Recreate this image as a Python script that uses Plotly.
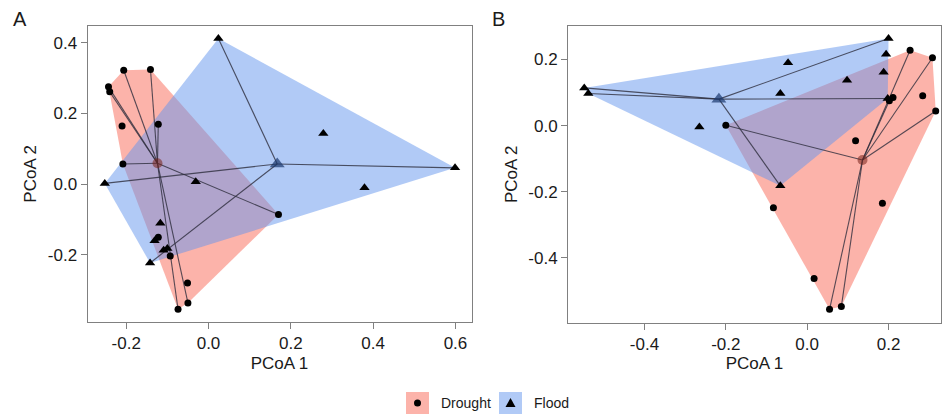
import plotly.graph_objects as go

W, H = 947, 414

# ---------------- Data ----------------
# Panel A
a_drought_x = [-0.206, -0.141, -0.243, -0.240, -0.210, -0.122, -0.208, 0.170, -0.093, -0.051, -0.050, -0.074, -0.122]
a_drought_y = [0.322, 0.324, 0.275, 0.261, 0.164, 0.169, 0.057, -0.086, -0.203, -0.280, -0.336, -0.354, -0.150]
a_drought_linked = [0, 1, 2, 3, 5, 6, 7, 10, 11]
a_flood_x = [0.024, -0.252, -0.031, -0.117, -0.131, -0.109, -0.100, -0.142, 0.279, 0.379, 0.599]
a_flood_y = [0.412, 0.002, 0.007, -0.111, -0.160, -0.187, -0.182, -0.223, 0.143, -0.010, 0.046]
a_flood_linked = [0, 1, 7, 10]
a_drought_centroid = [-0.124, 0.059]
a_flood_centroid = [0.167, 0.057]

# Panel B
b_drought_x = [-0.200, 0.253, 0.308, 0.284, 0.316, 0.202, 0.211, 0.119, 0.185, -0.083, 0.017, 0.055, 0.084]
b_drought_y = [0.001, 0.228, 0.205, 0.090, 0.044, 0.075, 0.085, -0.046, -0.235, -0.248, -0.462, -0.555, -0.547]
b_drought_linked = [0, 1, 2, 4, 5, 11, 12]
b_flood_x = [-0.548, -0.538, -0.265, 0.200, 0.194, 0.188, -0.047, 0.098, -0.066, -0.066, 0.198]
b_flood_y = [0.114, 0.097, -0.004, 0.263, 0.216, 0.161, 0.190, 0.137, 0.097, -0.182, 0.082]
b_flood_linked = [0, 1, 3, 9, 10]
b_drought_centroid = [0.136, -0.104]
b_flood_centroid = [-0.217, 0.080]

groups = ["Drought", "Flood"]
a_xticks = [-0.2, 0.0, 0.2, 0.4, 0.6]
a_xticklabels = ["-0.2", "0.0", "0.2", "0.4", "0.6"]
a_yticks = [-0.2, 0.0, 0.2, 0.4]
a_yticklabels = ["-0.2", "0.0", "0.2", "0.4"]
b_xticks = [-0.4, -0.2, 0.0, 0.2]
b_xticklabels = ["-0.4", "-0.2", "0.0", "0.2"]
b_yticks = [-0.4, -0.2, 0.0, 0.2]
b_yticklabels = ["-0.4", "-0.2", "0.0", "0.2"]

# ---------------- Styles ----------------
RED_FILL = "rgba(250,128,114,0.6)"
BLUE_FILL = "rgba(100,149,237,0.5)"
LINE_COL = "rgba(45,45,60,0.8)"
DROUGHT_CEN = "rgba(120,35,25,0.55)"
FLOOD_CEN = "rgba(25,55,110,0.7)"
FONT = "Liberation Sans, Arial, sans-serif"
TXT = "#1a1a1a"
AX = "#808080"


def hull(xs, ys):
    pts = sorted(set(zip(xs, ys)))
    if len(pts) < 3:
        return pts

    def cross(o, a, b):
        return (a[0] - o[0]) * (b[1] - o[1]) - (a[1] - o[1]) * (b[0] - o[0])

    lower = []
    for p in pts:
        while len(lower) >= 2 and cross(lower[-2], lower[-1], p) <= 0:
            lower.pop()
        lower.append(p)
    upper = []
    for p in reversed(pts):
        while len(upper) >= 2 and cross(upper[-2], upper[-1], p) <= 0:
            upper.pop()
        upper.append(p)
    return lower[:-1] + upper[:-1]


def spider(cx, cy, xs, ys, idx):
    sx, sy = [], []
    for i in idx:
        sx += [cx, xs[i], None]
        sy += [cy, ys[i], None]
    return sx, sy


fig = go.Figure()


def add_panel(xa, ya, dx, dy, dl, fx, fy, fl, dc, fc):
    for xs, ys, col in [(dx, dy, RED_FILL), (fx, fy, BLUE_FILL)]:
        h = hull(xs, ys)
        hx = [p[0] for p in h] + [h[0][0]]
        hy = [p[1] for p in h] + [h[0][1]]
        fig.add_trace(go.Scatter(x=hx, y=hy, mode="lines", fill="toself", fillcolor=col,
                                 line=dict(width=0, color=col), xaxis=xa, yaxis=ya,
                                 showlegend=False, hoverinfo="skip"))
    for xs, ys, idx, c in [(dx, dy, dl, dc), (fx, fy, fl, fc)]:
        sx, sy = spider(c[0], c[1], xs, ys, idx)
        fig.add_trace(go.Scatter(x=sx, y=sy, mode="lines", line=dict(color=LINE_COL, width=1.1),
                                 xaxis=xa, yaxis=ya, showlegend=False, hoverinfo="skip"))
    fig.add_trace(go.Scatter(x=dx, y=dy, mode="markers", name="Drought",
                             marker=dict(symbol="circle", size=7, color="black"),
                             xaxis=xa, yaxis=ya, showlegend=False))
    fig.add_trace(go.Scatter(x=fx, y=fy, mode="markers", name="Flood",
                             marker=dict(symbol="triangle-up", size=9, color="black"),
                             xaxis=xa, yaxis=ya, showlegend=False))
    fig.add_trace(go.Scatter(x=[dc[0]], y=[dc[1]], mode="markers",
                             marker=dict(symbol="circle", size=10, color=DROUGHT_CEN),
                             xaxis=xa, yaxis=ya, showlegend=False))
    fig.add_trace(go.Scatter(x=[fc[0]], y=[fc[1]], mode="markers",
                             marker=dict(symbol="triangle-up", size=13, color=FLOOD_CEN),
                             xaxis=xa, yaxis=ya, showlegend=False))


add_panel("x", "y", a_drought_x, a_drought_y, a_drought_linked, a_flood_x, a_flood_y,
          a_flood_linked, a_drought_centroid, a_flood_centroid)
add_panel("x2", "y2", b_drought_x, b_drought_y, b_drought_linked, b_flood_x, b_flood_y,
          b_flood_linked, b_drought_centroid, b_flood_centroid)


def px(x):
    return x / W


def py(y):
    return 1 - y / H


axis_common = dict(showline=True, mirror=True, linecolor=AX, linewidth=1, ticks="outside",
                   ticklen=6, tickcolor=AX, showgrid=False, zeroline=False,
                   tickfont=dict(family=FONT, size=17, color=TXT), automargin=False,
                   fixedrange=True)

fig.update_layout(
    width=W, height=H, margin=dict(l=0, r=0, t=0, b=0),
    paper_bgcolor="white", plot_bgcolor="white",
    xaxis=dict(domain=[px(87.5), px(471.5)], range=[-0.294, 0.639], tickvals=a_xticks,
               ticktext=a_xticklabels, anchor="y",
               title=dict(text="PCoA 1", font=dict(family=FONT, size=17, color=TXT), standoff=4),
               **axis_common),
    yaxis=dict(domain=[py(322), py(25.7)], range=[-0.390, 0.448], tickvals=a_yticks,
               ticktext=a_yticklabels, anchor="x",
               title=dict(text="PCoA 2", font=dict(family=FONT, size=17, color=TXT), standoff=6),
               **axis_common),
    xaxis2=dict(domain=[px(568), px(941)], range=[-0.588, 0.329], tickvals=b_xticks,
                ticktext=b_xticklabels, anchor="y2",
                title=dict(text="PCoA 1", font=dict(family=FONT, size=17, color=TXT), standoff=4),
                **axis_common),
    yaxis2=dict(domain=[py(322.5), py(26)], range=[-0.595, 0.301], tickvals=b_yticks,
                ticktext=b_yticklabels, anchor="x2",
                title=dict(text="PCoA 2", font=dict(family=FONT, size=17, color=TXT), standoff=6),
                **axis_common),
)

# Panel letters
for label, xl in [("A", 11), ("B", 490)]:
    fig.add_annotation(text=label, x=px(xl), y=py(6), xref="paper", yref="paper",
                       xanchor="left", yanchor="top", showarrow=False,
                       font=dict(family=FONT, size=20, color=TXT))

# Manual legend at bottom
leg = [(groups[0], 406, RED_FILL, "circle", 439), (groups[1], 499, BLUE_FILL, "triangle", 532)]
for name, x0, fillc, sym, tx in leg:
    fig.add_shape(type="rect", xref="paper", yref="paper", x0=px(x0), x1=px(x0 + 23),
                  y0=py(414), y1=py(392), fillcolor=fillc, line=dict(width=0), layer="above")
    cx, cy = x0 + 11.5, 403
    if sym == "circle":
        fig.add_shape(type="circle", xref="paper", yref="paper", x0=px(cx - 3.5), x1=px(cx + 3.5),
                      y0=py(cy + 3.5), y1=py(cy - 3.5), fillcolor="black", line=dict(width=0),
                      layer="above")
    else:
        path = "M {} {} L {} {} L {} {} Z".format(px(cx - 5), py(cy + 4), px(cx + 5), py(cy + 4),
                                                  px(cx), py(cy - 5))
        fig.add_shape(type="path", xref="paper", yref="paper", path=path, fillcolor="black",
                      line=dict(width=0), layer="above")
    fig.add_annotation(text=name, x=px(tx), y=py(403), xref="paper", yref="paper",
                       xanchor="left", yanchor="middle", showarrow=False,
                       font=dict(family=FONT, size=14, color=TXT))

fig.write_html("out.html", config={"displayModeBar": False},
               post_script="document.body.style.margin='0';document.body.style.overflow='hidden';")
